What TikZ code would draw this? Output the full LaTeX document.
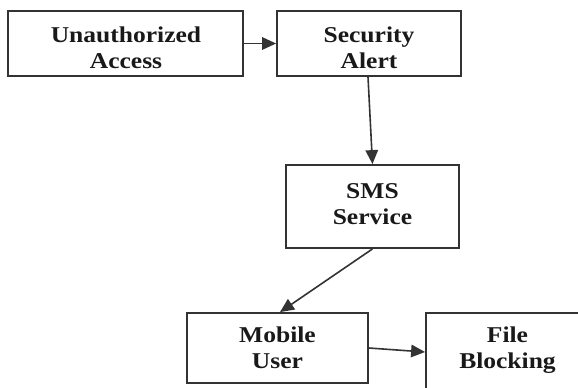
\documentclass[tikz,border=0pt]{standalone}
\usepackage{fontspec}
\setmainfont{Liberation Serif}
\newfontfamily\boxfont[FakeStretch=1.13]{Liberation Serif}
\usetikzlibrary{arrows.meta}
\definecolor{edgegray}{HTML}{333333}
\tikzset{
  box/.style={draw=edgegray, line width=1.8pt, fill=white, minimum width=#1, inner sep=0pt, rectangle},
  boxtext/.style={align=center, inner sep=0pt, anchor=base, text=black!90, font=\boxfont\bfseries\fontsize{22.6}{25.5}\selectfont},
  conn/.style={draw=edgegray, line width=1.6pt, -{Triangle[length=14pt,width=12.5pt]}, shorten >=0pt}
}
\begin{document}
\begin{tikzpicture}[x=1pt,y=-1pt]
\useasboundingbox (0,0) rectangle (578,388);
\clip (0,0) rectangle (578,388);
\node[box=235pt, minimum height=65pt] (b1) at (125.5,43.5) {};
\node[box=184pt, minimum height=65pt] (b2) at (369,43.5) {};
\node[box=173pt, minimum height=83pt] (b3) at (372.5,206.5) {};
\node[box=181pt, minimum height=70pt] (b4) at (277.5,348) {};
\node[box=164pt, minimum height=84pt] (b5) at (508,355) {};
\node[boxtext] (t1) at (126,68) {Unauthorized\\Access};
\node[boxtext] (t2) at (369,68) {Security\\Alert};
\node[boxtext] (t3) at (372.5,224) {SMS\\Service};
\node[boxtext] (t4) at (277.5,368) {Mobile\\User};
\node[boxtext] (t5) at (507.5,368) {File\\Blocking};
\draw[conn] (b1.east) -- (b2.west);
\draw[conn] ([xshift=-1pt]b2.south) -- (b3.north);
\draw[conn] (b3.south) -- ([xshift=2.5pt]b4.north);
\draw[conn] (b4.east) -- ([yshift=3pt]b5.west);
\end{tikzpicture}
\end{document}
